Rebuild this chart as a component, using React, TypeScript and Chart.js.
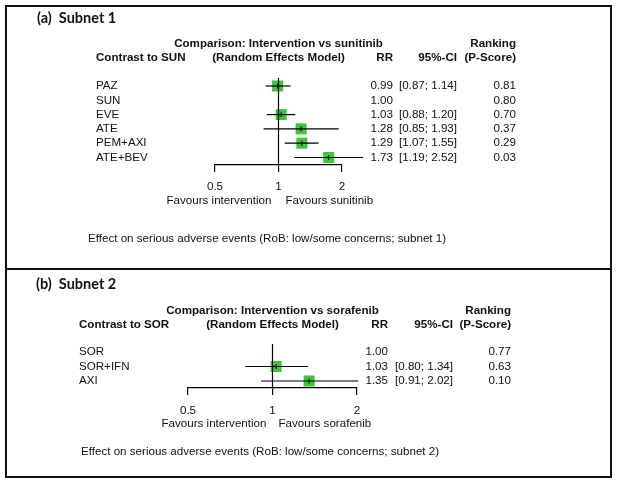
import React, { useEffect, useRef } from 'react';
import { Chart, registerables } from 'chart.js';

Chart.register(...registerables);

// ---------- data ----------
const subnet1Treatments = ['PAZ', 'SUN', 'EVE', 'ATE', 'PEM+AXI', 'ATE+BEV'];
const subnet1RR = [0.99, 1.0, 1.03, 1.28, 1.29, 1.73];
const subnet1Lower: (number | null)[] = [0.87, null, 0.88, 0.85, 1.07, 1.19];
const subnet1Upper: (number | null)[] = [1.14, null, 1.2, 1.93, 1.55, 2.52];
const subnet1PScore = [0.81, 0.8, 0.7, 0.37, 0.29, 0.03];

const subnet2Treatments = ['SOR', 'SOR+IFN', 'AXI'];
const subnet2RR = [1.0, 1.03, 1.35];
const subnet2Lower: (number | null)[] = [null, 0.8, 0.91];
const subnet2Upper: (number | null)[] = [null, 1.34, 2.02];
const subnet2PScore = [0.77, 0.63, 0.1];

const axisTicks = [0.5, 1, 2];

const GREEN = '#3BC63B';
const INK = '#111';
const FAMILY = '"Liberation Sans", Arial, Helvetica, sans-serif';
const BOLD = `bold 11.6px ${FAMILY}`;
const REG = `11.6px ${FAMILY}`;
const TITLE = `bold 14.5px Lato, "Open Sans", sans-serif`;

type PanelCfg = {
  width: number;
  height: number;
  labels: string[];
  rr: number[];
  lower: (number | null)[];
  upper: (number | null)[];
  pscore: number[];
  title: string;
  header1: string;
  contrast: string;
  favLeft: string;
  favRight: string;
  footer: string;
  // layout
  plotLeft: number;
  plotRight: number;
  plotTop: number;
  plotBottom: number;
  firstRow: number;
  rowStep: number;
  titleX: number;
  titleY: number;
  head1Y: number;
  head2Y: number;
  labelX: number;
  rrRight: number;
  ciRight: number;
  psRight: number;
  favY: number;
  favGap: number;
  footerX: number;
  footerY: number;
  tickPad: number;
};

const panelA: PanelCfg = {
  width: 619,
  height: 269,
  labels: subnet1Treatments,
  rr: subnet1RR,
  lower: subnet1Lower,
  upper: subnet1Upper,
  pscore: subnet1PScore,
  title: '(a)  Subnet 1',
  header1: 'Comparison: Intervention vs sunitinib',
  contrast: 'Contrast to SUN',
  favLeft: 'Favours intervention',
  favRight: 'Favours sunitinib',
  footer: 'Effect on serious adverse events (RoB: low/some concerns; subnet 1)',
  plotLeft: 215,
  plotRight: 342,
  plotTop: 78,
  plotBottom: 165,
  firstRow: 86,
  rowStep: 14.3,
  titleX: 37,
  titleY: 18,
  head1Y: 44,
  head2Y: 58,
  labelX: 96,
  rrRight: 393,
  ciRight: 457,
  psRight: 516,
  favY: 201,
  favGap: 7,
  footerX: 88,
  footerY: 239,
  tickPad: 8,
};

const panelB: PanelCfg = {
  width: 619,
  height: 214,
  labels: subnet2Treatments,
  rr: subnet2RR,
  lower: subnet2Lower,
  upper: subnet2Upper,
  pscore: subnet2PScore,
  title: '(b)  Subnet 2',
  header1: 'Comparison: Intervention vs sorafenib',
  contrast: 'Contrast to SOR',
  favLeft: 'Favours intervention',
  favRight: 'Favours sorafenib',
  footer: 'Effect on serious adverse events (RoB: low/some concerns; subnet 2)',
  plotLeft: 188,
  plotRight: 357,
  plotTop: 75,
  plotBottom: 119,
  firstRow: 83,
  rowStep: 14.5,
  titleX: 36,
  titleY: 15,
  head1Y: 42,
  head2Y: 56,
  labelX: 79,
  rrRight: 388,
  ciRight: 453,
  psRight: 511,
  favY: 155,
  favGap: 6,
  footerX: 81,
  footerY: 183,
  tickPad: 9,
};

function ForestPanel({ cfg, top }: { cfg: PanelCfg; top: number }) {
  const ref = useRef<HTMLCanvasElement>(null);

  useEffect(() => {
    const canvas = ref.current;
    if (!canvas) return;
    const AXIS_H = 40;
    const yMin = -(cfg.firstRow - cfg.plotTop) / cfg.rowStep;
    const yMax = (cfg.plotBottom - cfg.firstRow) / cfg.rowStep;
    const rows = cfg.labels.map((_, i) => i);
    const estRows = rows.filter((i) => cfg.lower[i] != null && cfg.upper[i] != null);

    const tickMarks: any = {
      type: 'scatter',
      data: estRows.map((i) => ({ x: cfg.rr[i], y: i })),
      pointStyle: 'line',
      pointRotation: 90,
      pointRadius: 2.5,
      pointBorderColor: '#000',
      borderColor: '#000',
      pointBorderWidth: 1,
      clip: false,
    };
    const ciLines: any[] = estRows.map((i) => ({
      type: 'line',
      data: [
        { x: cfg.lower[i], y: i },
        { x: cfg.upper[i], y: i },
      ],
      borderColor: '#000',
      borderWidth: 1.2,
      pointRadius: 0,
      clip: false,
    }));
    const refLine: any = {
      type: 'line',
      data: [
        { x: 1, y: yMin },
        { x: 1, y: yMax },
      ],
      borderColor: '#000',
      borderWidth: 1.2,
      pointRadius: 0,
      clip: false,
    };
    const squares: any = {
      type: 'scatter',
      data: estRows.map((i) => ({ x: cfg.rr[i], y: i })),
      pointStyle: 'rect',
      pointRadius: 7.8,
      pointBackgroundColor: GREEN,
      backgroundColor: GREEN,
      pointBorderWidth: 0,
      borderWidth: 0,
      clip: false,
    };

    const textPlugin = {
      id: 'forestText',
      afterDraw(chart: any) {
        const ctx = chart.ctx as CanvasRenderingContext2D;
        const xs = chart.scales.x;
        const ys = chart.scales.y;
        const x1 = xs.getPixelForValue(1);
        ctx.save();
        ctx.fillStyle = INK;
        ctx.textBaseline = 'middle';

        ctx.font = TITLE;
        ctx.textAlign = 'left';
        ctx.fillText(cfg.title, cfg.titleX, cfg.titleY);

        ctx.font = BOLD;
        ctx.textAlign = 'center';
        ctx.fillText(cfg.header1, x1, cfg.head1Y);
        ctx.fillText('(Random Effects Model)', x1, cfg.head2Y);
        ctx.textAlign = 'right';
        ctx.fillText('Ranking', cfg.psRight, cfg.head1Y);
        ctx.fillText('RR', cfg.rrRight, cfg.head2Y);
        ctx.fillText('95%-CI', cfg.ciRight, cfg.head2Y);
        ctx.fillText('(P-Score)', cfg.psRight, cfg.head2Y);
        ctx.textAlign = 'left';
        ctx.fillText(cfg.contrast, cfg.labelX, cfg.head2Y);

        ctx.font = REG;
        rows.forEach((i) => {
          const y = ys.getPixelForValue(i);
          ctx.textAlign = 'left';
          ctx.fillText(cfg.labels[i], cfg.labelX, y);
          ctx.textAlign = 'right';
          ctx.fillText(cfg.rr[i].toFixed(2), cfg.rrRight, y);
          const lo = cfg.lower[i];
          const hi = cfg.upper[i];
          if (lo != null && hi != null) {
            ctx.fillText(`[${lo.toFixed(2)}; ${hi.toFixed(2)}]`, cfg.ciRight, y);
          }
          ctx.fillText(cfg.pscore[i].toFixed(2), cfg.psRight, y);
        });

        ctx.textAlign = 'right';
        ctx.fillText(cfg.favLeft, x1 - cfg.favGap, cfg.favY);
        ctx.textAlign = 'left';
        ctx.fillText(cfg.favRight, x1 + cfg.favGap, cfg.favY);

        ctx.fillText(cfg.footer, cfg.footerX, cfg.footerY);
        ctx.restore();
      },
    };

    const chart = new Chart(canvas, {
      type: 'scatter',
      data: { datasets: [tickMarks, ...ciLines, refLine, squares] },
      options: {
        animation: false,
        responsive: false,
        devicePixelRatio: 1,
        events: [],
        layout: {
          padding: {
            left: cfg.plotLeft,
            right: cfg.width - cfg.plotRight,
            top: cfg.plotTop,
            bottom: cfg.height - cfg.plotBottom - AXIS_H,
          },
        },
        plugins: {
          legend: { display: false },
          tooltip: { enabled: false },
          title: { display: false },
        },
        scales: {
          x: {
            type: 'logarithmic',
            position: 'bottom',
            min: axisTicks[0],
            max: axisTicks[axisTicks.length - 1],
            afterBuildTicks: (s: any) => {
              s.ticks = axisTicks.map((v) => ({ value: v }));
            },
            afterFit: (s: any) => {
              s.height = AXIS_H;
            },
            ticks: {
              callback: (v: any) => String(v),
              color: INK,
              font: { family: FAMILY, size: 11.6 },
              padding: cfg.tickPad,
              maxRotation: 0,
              autoSkip: false,
            },
            grid: {
              drawOnChartArea: false,
              drawTicks: true,
              tickLength: 7,
              color: '#000',
              lineWidth: 1.2,
            },
            border: { display: true, color: '#000', width: 1.2 },
          },
          y: {
            type: 'linear',
            display: false,
            reverse: true,
            min: yMin,
            max: yMax,
          },
        },
      } as any,
      plugins: [textPlugin],
    });
    return () => chart.destroy();
  }, [cfg]);

  return (
    <canvas
      ref={ref}
      width={cfg.width}
      height={cfg.height}
      style={{ position: 'absolute', left: 0, top, width: cfg.width, height: cfg.height }}
    />
  );
}

export default function App() {
  return (
    <div style={{ position: 'absolute', left: 0, top: 0, width: 619, height: 483, background: '#fff' }}>
      <ForestPanel cfg={panelA} top={0} />
      <ForestPanel cfg={panelB} top={269} />
      <div
        style={{
          position: 'absolute',
          left: 5,
          top: 5,
          width: 607,
          height: 473,
          border: '2px solid #111',
          boxSizing: 'border-box',
          pointerEvents: 'none',
        }}
      />
      <div style={{ position: 'absolute', left: 5, top: 268, width: 607, height: 2, background: '#111' }} />
    </div>
  );
}
